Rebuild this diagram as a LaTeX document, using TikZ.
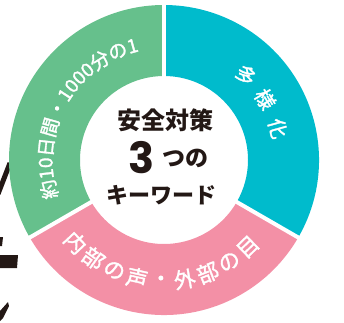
\documentclass[tikz,border=0pt]{standalone}
\usepackage{fontspec}
\setmainfont{Noto Sans CJK JP}
\newfontfamily\medfont{Noto Sans CJK JP}[FakeBold=1.6]
\newfontfamily\numfont{Poppins}
\usetikzlibrary{decorations.text,calc}
\definecolor{rgreen}{HTML}{66C08C}
\definecolor{rcyan}{HTML}{00BBCC}
\definecolor{rpink}{HTML}{F390A6}
\definecolor{ink}{HTML}{231815}
\newcommand\gtxtfont{\medfont\fontsize{19pt}{19pt}\selectfont}
\tikzset{
  arcchar/.style={text=white, inner sep=0pt},
  cyanchar/.style={arcchar, font=\medfont\fontsize{20pt}{20pt}\selectfont},
  pinkchar/.style={arcchar, font=\medfont\fontsize{21.5pt}{21.5pt}\selectfont},
  centertext/.style={text=ink, inner sep=0pt},
  gapline/.style={white, line width=4pt},
  glyphpart/.style={fill=ink}
}
\begin{document}
\begin{tikzpicture}[x=1pt,y=1pt]
\useasboundingbox (0,0) rectangle (344,322);
\coordinate (C) at (164,162);
% fragments of a large black glyph at the left edge
\draw[ink, line width=5pt] (-2,128) -- (10,159);
\fill[glyphpart] (0,85) -- (3,85) -- (2,76) -- (0,76) -- cycle;
\fill[glyphpart] (0,67) -- (18,67) -- (17,54) -- (0,54) -- cycle;
\fill[glyphpart] (8,20) -- (9,16) -- (3,4) -- (0,1) -- (0,11) -- cycle;
% ring sectors
\fill[rcyan] ($(C)+(-30:155pt)$) arc[start angle=-30, end angle=90, radius=155pt]
  -- ($(C)+(90:84pt)$) arc[start angle=90, end angle=-30, radius=84pt] -- cycle;
\fill[rgreen] ($(C)+(90:155pt)$) arc[start angle=90, end angle=210, radius=155pt]
  -- ($(C)+(210:84pt)$) arc[start angle=210, end angle=90, radius=84pt] -- cycle;
\fill[rpink] ($(C)+(210:155pt)$) arc[start angle=210, end angle=330, radius=155pt]
  -- ($(C)+(330:84pt)$) arc[start angle=330, end angle=210, radius=84pt] -- cycle;
% white gaps
\draw[gapline] ($(C)+(90:80pt)$) -- ($(C)+(90:160pt)$);
\draw[gapline] ($(C)+(-30:80pt)$) -- ($(C)+(-30:160pt)$);
\draw[gapline] ($(C)+(210:80pt)$) -- ($(C)+(210:160pt)$);
% green arc text
\path[decorate, decoration={text along path, text color=white, text align=center,
  text={|\gtxtfont|約10日間・1000分の1}}]
  ($(C)+(215:111.5pt)$) arc[start angle=215, end angle=87, radius=111.5pt];
% cyan arc text
\node[cyanchar, rotate=-44] (c1) at ($(C)+(46:118pt)$) {多};
\node[cyanchar, rotate=-59] (c2) at ($(C)+(31:118pt)$) {様};
\node[cyanchar, rotate=-74.5] (c3) at ($(C)+(15.5:118pt)$) {化};
% pink arc text
\foreach \ch [count=\i from 0] in {内,部,の,声,・,外,部,の,目}{
  \pgfmathsetmacro\ang{223+\i*11.375}
  \node[pinkchar, rotate=\ang+90] (p\i) at ($(C)+(\ang:121pt)$) {\ch};
}
% centre text
\node[centertext, font=\bfseries\fontsize{24pt}{24pt}\selectfont] (t1) at (165,202) {安全対策};
\node[centertext, font=\numfont\bfseries\fontsize{43pt}{43pt}\selectfont] (t2) at (141.5,164) {3};
\node[centertext, font=\bfseries\fontsize{23pt}{23pt}\selectfont] (t3) at (185,164) {つの};
\node[centertext, font=\bfseries\fontsize{22pt}{22pt}\selectfont] (t4) at (161.5,127) {キーワード};
\end{tikzpicture}
\end{document}
